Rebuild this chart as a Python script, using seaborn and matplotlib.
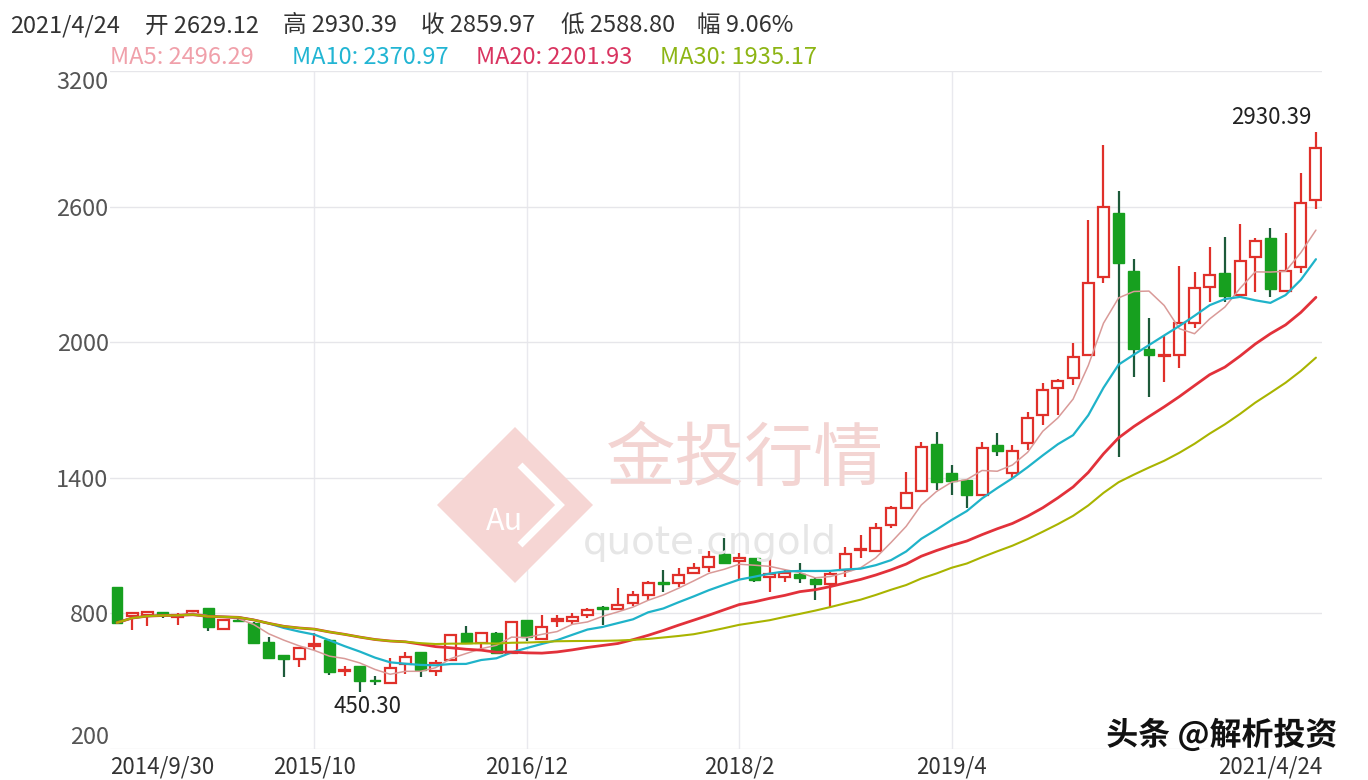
import numpy as np
import pandas as pd
import matplotlib
matplotlib.use("Agg")
import matplotlib.pyplot as plt
import matplotlib.patheffects as pe
from matplotlib.patches import Polygon
import seaborn as sns

# ---------------- data (monthly candles 2014/9 .. 2021/4) ----------------
opens = [916, 790, 795, 805, 782, 795, 824, 731, 770, 758,
         674, 616, 598, 655, 683, 545, 567, 505, 492, 574,
         629, 545, 594, 714, 669, 714, 625, 771, 687, 765,
         767, 793, 830, 820, 845, 882, 937, 935, 978, 1006,
         1063, 1030, 1045, 960, 960, 975, 953, 930, 993, 1080,
         1077, 1190, 1267, 1342, 1550, 1422, 1391, 1324, 1546, 1422,
         1555, 1679, 1798, 1843, 1945, 2290, 2570, 2316, 1971, 1940,
         1945, 2086, 2245, 2308, 2210, 2379, 2463, 2228, 2334, 2629.12]
highs = [918, 805, 810, 806, 800, 815, 826, 773, 775, 760,
         696, 618, 652, 714, 685, 566, 569, 525, 603, 629,
         631, 594, 705, 745, 716, 716, 764, 773, 793, 793,
         800, 825, 832, 913, 900, 944, 993, 1000, 1023, 1075,
         1134, 1067, 1047, 1050, 993, 1023, 960, 985, 1095, 1148,
         1200, 1275, 1426, 1560, 1604, 1457, 1395, 1560, 1600, 1546,
         1692, 1821, 1835, 1998, 2542, 2874, 2671, 2370, 2109, 2029,
         2339, 2312, 2423, 2467, 2525, 2463, 2507, 2485, 2750, 2930.39]
lows = [755, 727, 745, 780, 750, 790, 720, 728, 760, 665,
        600, 519, 563, 638, 528, 523, 450.30, 483, 488, 532,
        519, 523, 590, 665, 647, 622, 620, 680, 683, 740,
        755, 780, 750, 815, 833, 860, 895, 917, 975, 985,
        1020, 952, 940, 895, 940, 935, 860, 830, 963, 1045,
        1070, 1180, 1260, 1335, 1347, 1325, 1267, 1320, 1497, 1395,
        1525, 1635, 1679, 1812, 1940, 2263, 1493, 1847, 1758, 1825,
        1887, 2064, 2179, 2179, 2206, 2223, 2201, 2220, 2308, 2588.80]
closes = [759, 800, 805, 798, 795, 810, 740, 771, 766, 669,
          603, 598, 647, 665, 541, 550, 501, 503, 558, 607,
          550, 581, 705, 669, 714, 625, 762, 696, 740, 775,
          785, 815, 820, 838, 882, 935, 932, 970, 1000, 1050,
          1023, 1045, 948, 975, 978, 957, 930, 975, 1063, 1085,
          1178, 1267, 1333, 1537, 1382, 1386, 1324, 1533, 1520, 1520,
          1666, 1790, 1830, 1936, 2263, 2600, 2352, 1971, 1945, 1945,
          2086, 2241, 2299, 2206, 2360, 2450, 2237, 2316, 2617, 2859.97]

tick_pos = [13, 27, 41, 55]
tick_labels = ["2015/10", "2016/12", "2018/2", "2019/4"]
first_label = "2014/9/30"
last_label = "2021/4/24"
y_ticks = [200, 800, 1400, 2000, 2600, 3200]

header_parts = ["2021/4/24", "开 2629.12", "高 2930.39", "收 2859.97", "低 2588.80", "幅 9.06%"]
ma_windows = [5, 10, 20, 30]
ma_labels = ["MA5: 2496.29", "MA10: 2370.97", "MA20: 2201.93", "MA30: 1935.17"]

# ---------------- styling ----------------
sns.set_theme(style="white")
plt.rcParams["font.family"] = ["Noto Sans CJK SC", "DejaVu Sans"]

UP = "#e0302a"
DOWN = "#17a01f"
DOWN_WICK = "#1d5a3a"
ma_line_colors = ["#d99a98", "#1fb3c9", "#e2313a", "#a9b400"]
ma_text_colors = ["#f0a0aa", "#22b5d3", "#d93460", "#8db515"]

W, H = 1368, 780
fig = plt.figure(figsize=(W / 100, H / 100), dpi=100)
fig.patch.set_facecolor("white")
x0, x1, yt, yb = 110, 1322, 71, 749
ax = fig.add_axes([x0 / W, 1 - yb / H, (x1 - x0) / W, (yb - yt) / H])
ax.set_facecolor("white")

# ---------------- watermark ----------------
cx, cy, r = 515, 505, 78
diamond = Polygon([(cx / W, 1 - (cy - r) / H), ((cx + r) / W, 1 - cy / H),
                   (cx / W, 1 - (cy + r) / H), ((cx - r) / W, 1 - cy / H)],
                  closed=True, transform=fig.transFigure, facecolor="#f6d6d4",
                  edgecolor="none", zorder=0)
fig.patches.append(diamond)
inner = Polygon([((cx + 5) / W, 1 - (cy - 40) / H), ((cx + 45) / W, 1 - (cy) / H),
                 ((cx + 5) / W, 1 - (cy + 40) / H)], closed=False,
                transform=fig.transFigure, facecolor="none", edgecolor="white",
                linewidth=5, zorder=0)
fig.patches.append(inner)
fig.text(505 / W, 1 - 522 / H, "Au", color="white", fontsize=22, ha="center", va="center", zorder=0)
fig.text(745 / W, 1 - 460 / H, "金投行情", color="#f3d4d2", fontsize=50, ha="center",
         va="center", zorder=0)
fig.text(710 / W, 1 - 543 / H, "quote.cngold", color="#e6e6e6", fontsize=28, ha="center",
         va="center", family=["DejaVu Sans"], zorder=0)

# ---------------- candles ----------------
df = pd.DataFrame({"open": opens, "high": highs, "low": lows, "close": closes})
df["idx"] = np.arange(len(df))
up = df["close"] >= df["open"]
dn = ~up
bw = 0.72

ax.vlines(df.loc[up, "idx"], df.loc[up, "low"], df.loc[up, "high"], color=UP, linewidth=1.6, zorder=3)
ax.vlines(df.loc[dn, "idx"], df.loc[dn, "low"], df.loc[dn, "high"], color=DOWN_WICK, linewidth=1.6, zorder=3)
ub = (df.loc[up, "close"] - df.loc[up, "open"]).clip(lower=3)
ax.bar(df.loc[up, "idx"], ub, bottom=df.loc[up, "open"], width=bw,
       facecolor="white", edgecolor=UP, linewidth=1.6, zorder=4)
db = (df.loc[dn, "open"] - df.loc[dn, "close"]).clip(lower=3)
ax.bar(df.loc[dn, "idx"], db, bottom=df.loc[dn, "close"], width=bw,
       facecolor=DOWN, edgecolor=DOWN, linewidth=1.0, zorder=4)

# ---------------- moving averages ----------------
lw = [1.1, 1.6, 2.0, 1.5]
for w, c, l in zip(ma_windows, ma_line_colors, lw):
    df[f"ma{w}"] = df["close"].rolling(w, min_periods=1).mean()
    sns.lineplot(data=df, x="idx", y=f"ma{w}", color=c, linewidth=l, ax=ax, zorder=5)

# ---------------- axes ----------------
ax.set_xlim(-0.46, 79.4)
ax.set_ylim(200, 3200)
ax.set_xlabel("")
ax.set_ylabel("")
for s in ax.spines.values():
    s.set_visible(False)
ax.set_yticks(y_ticks)
ax.set_yticklabels([str(v) for v in y_ticks])
ax.grid(axis="y", color="#e6e6ea", linewidth=1.0, zorder=0)
for xp in tick_pos:
    ax.axvline(xp, color="#e9e9ee", linewidth=1.0, zorder=0)
ax.set_xticks([-0.46] + tick_pos + [79.4])
ax.set_xticklabels([first_label] + tick_labels + [last_label])
xt = ax.get_xticklabels()
xt[0].set_ha("left")
xt[-1].set_ha("right")
ax.tick_params(axis="x", length=0, pad=5, labelsize=16, labelcolor="#333333")
ax.tick_params(axis="y", length=0, pad=1, labelsize=17, labelcolor="#555555")
ytl = ax.get_yticklabels()
ytl[0].set_va("bottom")
ytl[-1].set_va("top")
ax.set_axisbelow(True)

# annotations of extremes
imax = int(np.argmax(highs))
imin = int(np.argmin(lows))
ax.annotate(f"{highs[imax]:.2f}", (imax, highs[imax]), xytext=(-45, 14), textcoords="offset pixels",
            ha="center", va="center", fontsize=16, color="#222222")
ax.annotate(f"{lows[imin]:.2f}", (imin, lows[imin]), xytext=(8, -14), textcoords="offset pixels",
            ha="center", va="center", fontsize=16, color="#222222")

# ---------------- header text ----------------
hx = [10, 145, 283, 421, 561, 697]
for t, x in zip(header_parts, hx):
    fig.text(x / W, 1 - 26 / H, t, fontsize=17, color="#333333", ha="left", va="center")
mx = [110, 292, 476, 660]
for t, x, c in zip(ma_labels, mx, ma_text_colors):
    fig.text(x / W, 1 - 57 / H, t, fontsize=17, color=c, ha="left", va="center")

# platform watermark
fig.text(1222 / W, 1 - 735 / H, "头条 @解析投资", fontsize=23, color="#111111", ha="center",
         va="center", fontweight="bold",
         path_effects=[pe.withStroke(linewidth=4, foreground="white")], zorder=10)

fig.savefig("out.png", dpi=100, facecolor="white")
